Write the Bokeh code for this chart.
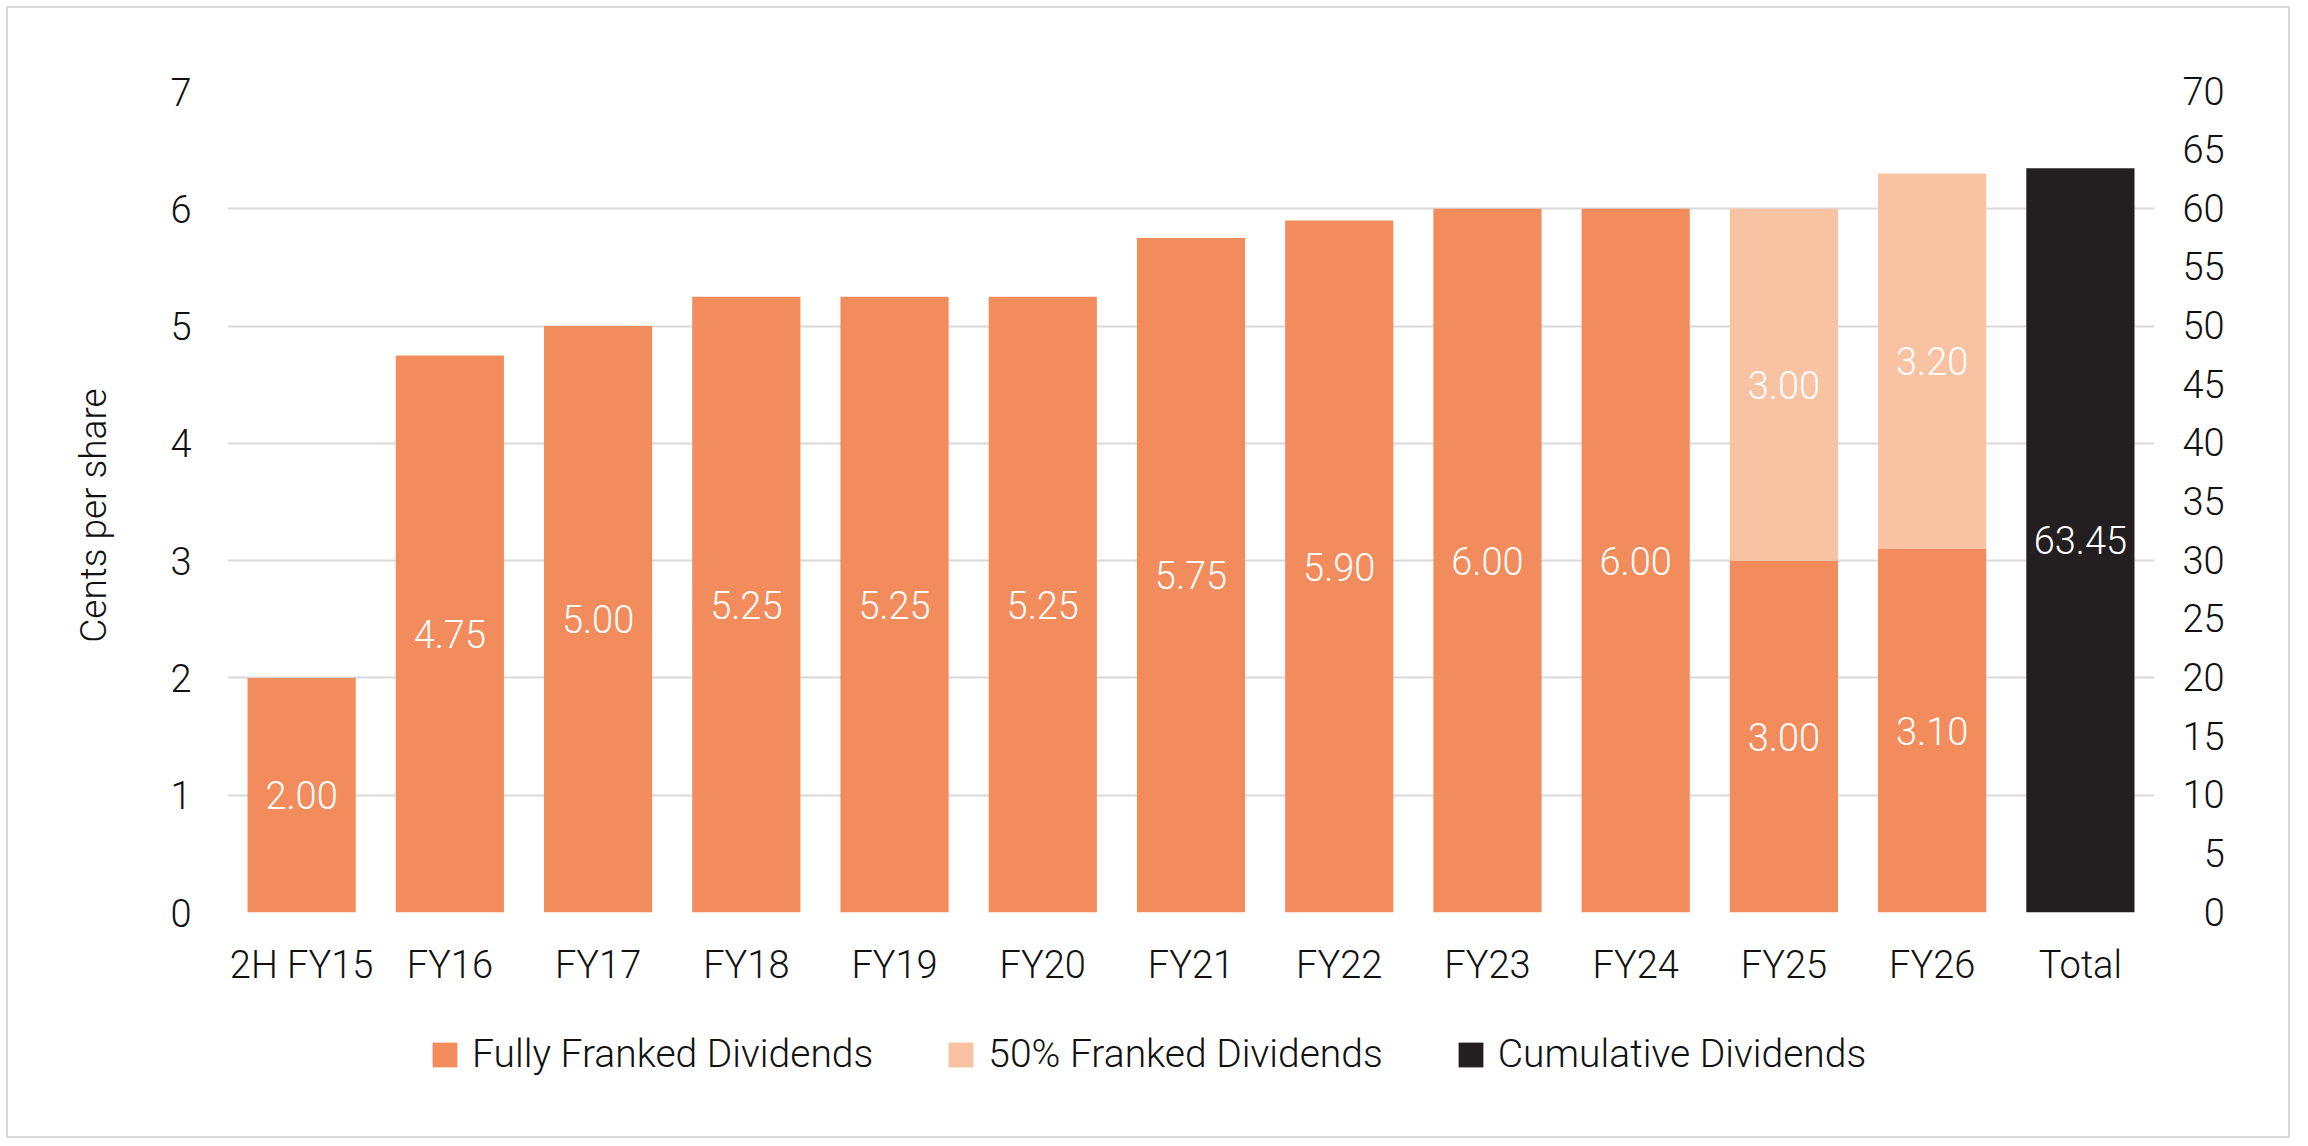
from bokeh.plotting import figure
from bokeh.models import (ColumnDataSource, FactorRange, Range1d, LinearAxis, FixedTicker,
                          CustomJSTickFormatter, Legend, LegendItem)
from bokeh.layouts import column
from bokeh.core.properties import value
from bokeh.embed import file_html
from bokeh.resources import INLINE

# ---------------- data ----------------
categories = ["2H FY15", "FY16", "FY17", "FY18", "FY19", "FY20", "FY21",
              "FY22", "FY23", "FY24", "FY25", "FY26"]
fully_franked = [2.00, 4.75, 5.00, 5.25, 5.25, 5.25, 5.75, 5.90, 6.00, 6.00, 3.00, 3.10]
half_franked = [0, 0, 0, 0, 0, 0, 0, 0, 0, 0, 3.00, 3.20]
total_category = ["Total"]
cumulative = [63.45]
left_ticks = [0, 1, 2, 3, 4, 5, 6, 7]
right_ticks = [0, 5, 10, 15, 20, 25, 30, 35, 40, 45, 50, 55, 60, 65, 70]
series_names = ["Fully Franked Dividends", "50% Franked Dividends", "Cumulative Dividends"]

# ---------------- style ----------------
FONT = "Roboto Light"
ORANGE = "#F28C5C"
LIGHT = "#F9C2A2"
DARK = "#231F20"
GRID = "#D9D9D9"
TXT = "#111111"
FS = "38px"
NB = "\u00a0"
COLORS = [ORANGE, LIGHT, DARK]

W = 2280
H_MAIN, H_LEG = 1000, 128
all_cats = categories + total_category

p = figure(x_range=FactorRange(factors=all_cats), y_range=Range1d(0, 7),
           width=W, height=H_MAIN, output_backend="svg", toolbar_location=None,
           min_border_left=219, min_border_right=134, min_border_top=83,
           min_border_bottom=H_MAIN - 904)
p.extra_y_ranges = {"right": Range1d(0, 70)}
p.outline_line_color = None
p.background_fill_color = "white"
p.border_fill_color = "white"

# bars
ff_src = ColumnDataSource(dict(x=categories, top=fully_franked,
                               mid=[v / 2 for v in fully_franked],
                               txt=["%.2f" % v for v in fully_franked]))
hf_x = [c for c, h in zip(categories, half_franked) if h > 0]
hf_bottom = [f for f, h in zip(fully_franked, half_franked) if h > 0]
hf_val = [h for h in half_franked if h > 0]
hf_src = ColumnDataSource(dict(x=hf_x, bottom=hf_bottom,
                               top=[b + h for b, h in zip(hf_bottom, hf_val)],
                               mid=[b + h / 2 for b, h in zip(hf_bottom, hf_val)],
                               txt=["%.2f" % v for v in hf_val]))
tot_src = ColumnDataSource(dict(x=total_category, top=cumulative,
                                mid=[v / 2 for v in cumulative],
                                txt=["%.2f" % v for v in cumulative]))

p.vbar(x="x", top="top", bottom=0, width=0.73, source=ff_src,
       fill_color=ORANGE, line_color=None)
p.vbar(x="x", top="top", bottom="bottom", width=0.73, source=hf_src,
       fill_color=LIGHT, line_color=None)
p.vbar(x="x", top="top", bottom=0, width=0.73, source=tot_src,
       fill_color=DARK, line_color=None, y_range_name="right")

for src, rn in ((ff_src, "default"), (hf_src, "default"), (tot_src, "right")):
    p.text(x="x", y="mid", text="txt", source=src, y_range_name=rn,
           text_font=value(FONT), text_font_size=FS, text_color="white",
           text_align="center", text_baseline="middle")

# axes
right_axis = LinearAxis(y_range_name="right", ticker=FixedTicker(ticks=right_ticks),
                        formatter=CustomJSTickFormatter(
                            code="return (tick < 10 ? '\\u2007' : '') + tick;"))
p.add_layout(right_axis, "right")
p.yaxis[0].ticker = FixedTicker(ticks=left_ticks)
p.yaxis[0].axis_label = "Cents per share" + NB * 3
p.yaxis[0].axis_label_text_font = FONT
p.yaxis[0].axis_label_text_font_size = "37px"
p.yaxis[0].axis_label_text_font_style = "normal"
p.yaxis[0].axis_label_text_color = TXT
p.yaxis[0].axis_label_standoff = 52

for ax in list(p.xaxis) + list(p.yaxis):
    ax.axis_line_color = None
    ax.major_tick_line_color = None
    ax.minor_tick_line_color = None
    ax.major_tick_out = 0
    ax.major_tick_in = 0
    ax.major_label_text_font = FONT
    ax.major_label_text_font_size = FS
    ax.major_label_text_color = TXT
p.yaxis[0].major_label_standoff = 36
right_axis.major_label_standoff = 28
p.xaxis[0].major_label_standoff = 30

p.xgrid.visible = False
p.ygrid.ticker = FixedTicker(ticks=left_ticks)
p.ygrid.grid_line_color = GRID
p.ygrid.grid_line_width = 2

# legend strip below the chart (its frame is aligned with the chart frame)
pl = figure(width=W, height=H_LEG, x_range=Range1d(0, 1), y_range=Range1d(0, 1),
            output_backend="svg", toolbar_location=None,
            x_axis_type=None, y_axis_type=None,
            min_border_left=0, min_border_right=0, min_border_top=0, min_border_bottom=0)
pl.outline_line_color = None
pl.grid.visible = False
pl.background_fill_color = "white"
pl.border_fill_color = "white"
leg_renderers = [pl.vbar(x=[0.5], top=[0], bottom=[0], width=0.01,
                         fill_color=c, line_color=None)
                 for c in COLORS]
legend = Legend(items=[LegendItem(label=n, renderers=[r])
                       for n, r in zip(series_names, leg_renderers)],
                orientation="horizontal", location=(202, 59),
                border_line_color=None, background_fill_alpha=0,
                padding=0, margin=0, spacing=72, label_standoff=12,
                glyph_width=31, glyph_height=31, label_height=31,
                label_text_font=FONT, label_text_font_size="39px",
                label_text_color=TXT)
pl.add_layout(legend)

layout = column(p, pl, spacing=0)
layout.styles = {"border": "2px solid #D9D9D9", "margin-left": "6px", "margin-top": "6px"}

open("out.html", "w").write(file_html(layout, INLINE))
